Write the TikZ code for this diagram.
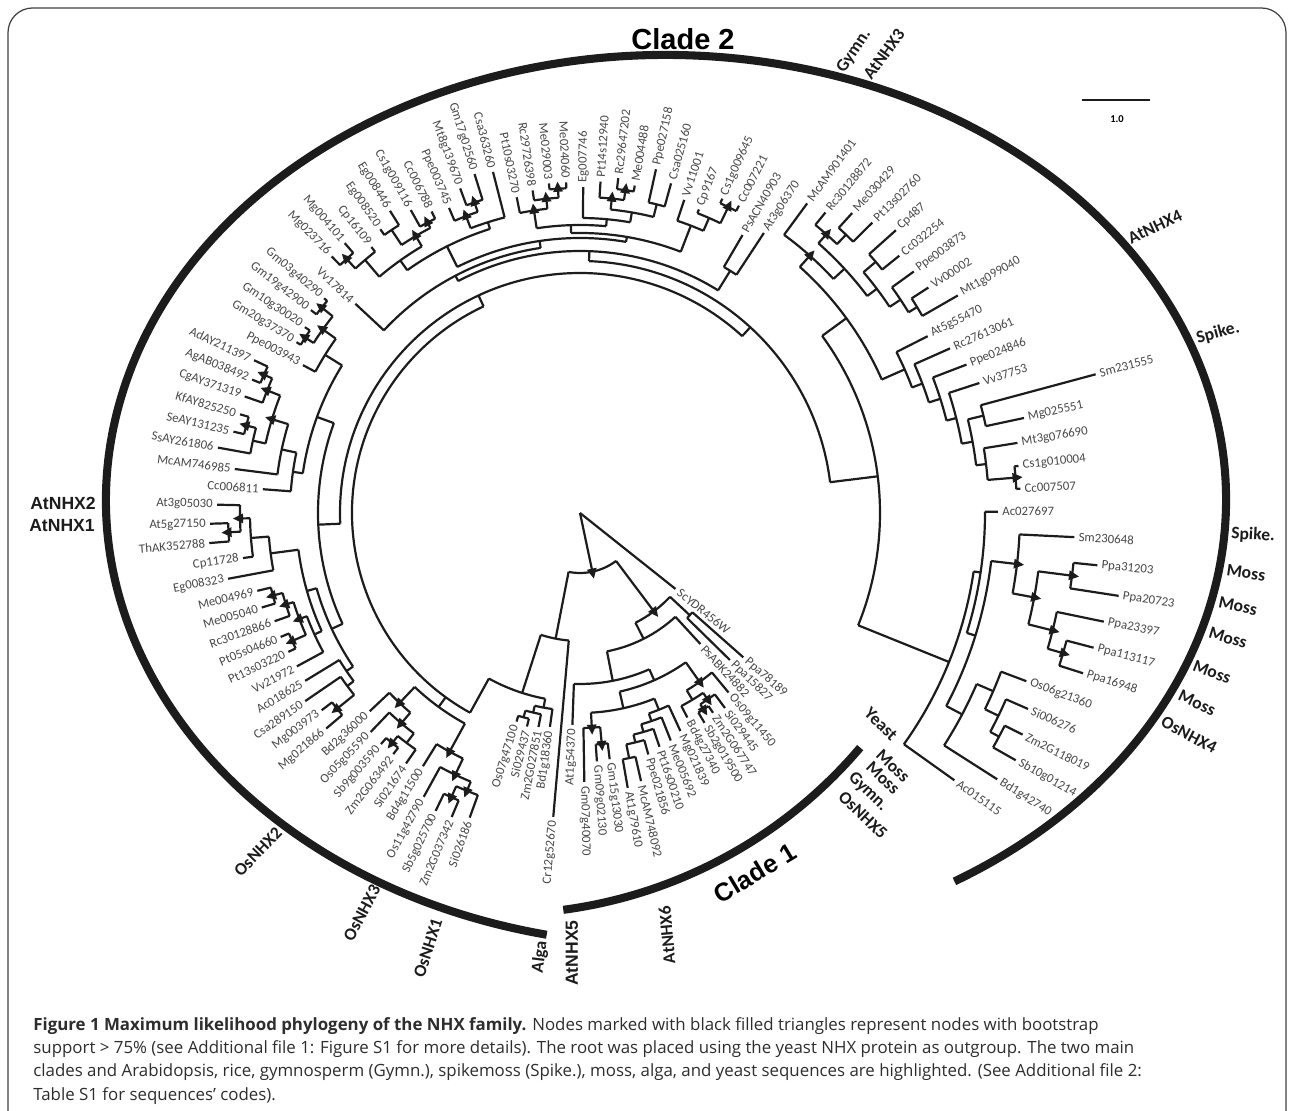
\documentclass[tikz,border=0pt]{standalone}
\usepackage{fontspec}
\setmainfont{Carlito}
\newfontfamily\arialfont{Liberation Sans}
\newfontfamily\capfont{Open Sans}
\definecolor{treeblack}{RGB}{28,28,28}
\definecolor{tipgray}{RGB}{72,72,72}
\definecolor{captext}{RGB}{45,45,45}
\tikzset{
  branch/.style={draw=treeblack, line width=1.25pt},
  tiplabel/.style={font=\fontsize{7.3}{8}\selectfont, text=tipgray, inner sep=0pt},
  grouplabel/.style={font=\bfseries\fontsize{10}{12}\selectfont, text=treeblack, inner sep=0pt},
  arialgroup/.style={font=\arialfont\bfseries\fontsize{10}{12}\selectfont, text=treeblack, inner sep=0pt},
  cladebar/.style={draw=treeblack, line width=4.6pt},
}
\begin{document}
\begin{tikzpicture}[x=0.02cm, y=0.02cm]
  \useasboundingbox (0,0) rectangle (1292,1111);

  % frame
  \draw[line width=0.7pt, draw=black!75, rounded corners=14]
    (8,-40) -- (8,1103) -- (1286,1103) -- (1286,-40);

  % === TREE (root at centre) ===
  \begin{scope}[shift={(580,598)}]
    % internal nodes: position / first child / last child / parent radius / radius / support
    \foreach \tn/\tlo/\thi/\rp/\rn/\bs in {
      14.3/5.9/22/0/60/1, 5.9/2.5/9.3/60/123/1, 2.5/2/3/123/150/0,
      9.3/4/14.6/123/141/0, 14.6/10.27/19/141/171/0, 10.27/6.44/14.1/171/183/0,
      6.44/5/7.875/183/207/1, 7.875/6.75/9/207/218/0, 6.75/6/7.5/218/226/1,
      7.5/7/8/226/232/1, 14.1/10.97/17.25/183/200/0, 10.97/10/11.94/200/212/0,
      11.94/11/12.875/212/220/0, 12.875/12/13.75/220/228/0, 13.75/13/14.5/228/236/0,
      14.5/14/15/236/250/0, 17.25/16.5/18/200/215/1, 16.5/16/17/215/232/1,
      22/20/24.3/60/128/0, 24.3/21.875/28/128/189/0, 21.875/21/22.75/189/198/0,
      22.75/22/23.5/198/205/0, 23.5/23/24/205/212/0, 28/28/70.4/189/228/0,
      30.44/27.94/32.94/228/240/0, 27.94/26.875/29/240/272/1, 26.875/25.75/28/272/290/1,
      25.75/25/26.5/290/300/1, 26.5/26/27/300/312/1, 32.94/31.875/34/240/262/1,
      31.875/30.75/33/262/276/1, 30.75/30/31.5/276/288/0, 31.5/31/32/288/297/1,
      70.4/47.7/93.1/228/240/0, 47.7/40.15/55.3/240/262/0, 40.15/37.1/43.2/262/274/0,
      37.1/36.25/38/274/282/0, 36.25/35.5/37/282/290/0, 35.5/35/36/290/312/1,
      43.2/40.3/46.06/274/284/0, 40.3/39/41.6/284/292/0, 41.6/40.5/42.75/292/300/1,
      40.5/40/41/300/315/1, 42.75/42/43.5/300/308/1, 43.5/43/44/308/318/1,
      46.06/45/47.1/284/312/0, 47.1/46/48.25/312/330/0, 48.25/47.5/49/330/340/1,
      47.5/47/48/340/352/1, 55.3/51.3/59.25/262/280/0, 51.3/50/52.6/280/290/0,
      52.6/51/54.25/290/305/0, 54.25/52.75/55.75/305/322/1, 52.75/52/53.5/322/335/0,
      53.5/53/54/335/345/1, 55.75/55/56.5/322/336/1, 56.5/56/57/336/345/1,
      59.25/58/60.5/280/300/0, 60.5/59.5/61.5/300/316/1, 59.5/59/60/316/326/1,
      61.5/61/62/316/330/1, 93.1/79.5/106.7/240/252/0, 79.5/69.5/89.5/252/262/0,
      69.5/63/75.97/262/268/0, 75.97/69.9/82.05/268/275/0, 69.9/66.9/72.9/275/298/0,
      66.9/65.25/68.5/298/310/0, 65.25/64.5/66/310/332/0, 64.5/64/65/332/345/1,
      68.5/67.5/69.5/310/322/1, 67.5/67/68/322/340/0, 69.5/69/70/322/328/1,
      72.9/71.75/74/298/305/0, 71.75/71/72.5/305/318/1, 72.5/72/73/318/328/1,
      82.05/78.2/85.9/275/280/0, 78.2/75.9/80.56/280/288/0, 75.9/75/76.75/288/306/1,
      76.75/76/77.5/306/316/1, 77.5/77/78/316/325/1, 80.56/79/82.1/288/295/0,
      82.1/80.75/83.5/295/305/0, 80.75/80/81.5/305/316/1, 81.5/81/82/316/326/1,
      83.5/83/84/305/318/0, 85.9/85/86.75/280/308/0, 86.75/86/87.5/308/322/0,
      87.5/87/88/322/340/1, 89.5/89/90/262/285/0, 106.7/96.9/116.45/252/300/0,
      96.9/92.85/101.04/300/330/0, 92.85/91/94.7/330/345/1, 94.7/92.75/96.6/345/360/0,
      92.75/92/93.5/360/372/1, 93.5/93/94/372/385/0, 96.6/95.5/97.75/360/372/0,
      95.5/95/96/372/388/0, 97.75/97/98.5/372/385/0, 98.5/98/99/385/395/0,
      101.04/100/102.1/330/355/0, 102.1/101/103.15/355/366/0, 103.15/102/104.3/366/378/0,
      104.3/103/105.6/378/388/0, 105.6/104.5/106.75/388/399/0, 104.5/104/105/399/415/0,
      106.75/106/107.5/399/409/0, 107.5/107/108/409/437/1, 116.45/111.9/121/300/398/0,
      111.9/109/114.85/398/405/0, 114.85/111.3/118.4/405/414/0, 111.3/110/112.6/414/440/1,
      112.6/111.5/113.75/440/462/1, 111.5/111/112/462/496/1, 113.75/113/114.5/462/487/1,
      114.5/114/115/487/503/1, 118.4/116.9/120/414/432/0, 116.9/116/117.75/432/450/0,
      117.75/117/118.5/450/465/0, 118.5/118/119/465/475/0}{
      \pgfmathsetmacro\at{-35.525-2.97521*\tn}
      \pgfmathsetmacro\alo{-35.525-2.97521*\tlo}
      \pgfmathsetmacro\ahi{-35.525-2.97521*\thi}
      \draw[branch] (\at:\rp) -- (\at:\rn);
      \draw[branch] (\alo:\rn) arc[start angle=\alo, end angle=\ahi, radius=\rn];
      \ifnum\bs=1
        \fill[treeblack, rotate=\at] ({\rn+7},0) -- ({\rn-3},5) -- ({\rn-3},-5) -- cycle;
      \fi
    }

    % tips: index / parent radius / tip radius / label
    \foreach \i/\rp/\rn/\lbl in {
      1/0/122/ScYDR456W, 2/150/218/Ppa78189, 3/150/210/Ppa15827, 4/141/178/PsABK24882,
      5/207/233/Os09g11450, 6/226/243/Si029445, 7/232/240/Zm2G067747, 8/232/244/Sb2g019500,
      9/218/231/Bd4g27340, 10/212/240/Mg021839, 11/220/245/Me005692, 12/228/247/Pt16s00210,
      13/236/251/Ppe021856, 14/250/275/McAM748092, 15/250/279/At1g79610, 16/232/248/Gm15g13030,
      17/232/249/Gm09g02130, 18/215/269/Gm07g40070, 19/171/212/At1g54370, 20/128/305/Cr12g52670,
      21/198/216/Bd1g18360, 22/205/218/Zm2G027851, 23/212/220/Si029437, 24/212/218/Os07g47100,
      25/300/324/Si026186, 26/312/330/Zm2G037342, 27/312/331/Sb5g025700, 28/290/324/Os11g42790,
      29/272/298/Bd4g11500, 30/288/305/Si021674, 31/297/305/Zm2G063492, 32/297/305/Sb9g003590,
      33/276/303/Os05g05590, 34/262/289/Bd2g36000, 35/312/333/Mg021866, 36/312/325/Mg003973,
      37/290/333/Csa289150, 38/282/322/Ac018625, 39/292/322/Vv21972, 40/315/323/Pt13s03220,
      41/315/324/Pt05s04660, 42/308/324/Rc30128866, 43/318/332/Me005040, 44/318/332/Me004969,
      45/312/358/Eg008323, 46/330/340/Cp11728, 47/352/372/ThAK352788, 48/352/370/At5g27150,
      49/340/363/At3g05030, 50/290/318/Cc006811, 51/305/348/McAM746985, 52/335/368/SsAY261806,
      53/345/356/SeAY131235, 54/345/354/KfAY825250, 55/336/355/CgAY371319, 56/345/354/AgAB038492,
      57/345/360/AdAY211397, 58/300/314/Ppe003943, 59/326/331/Gm20g37370, 60/326/332/Gm10g30020,
      61/330/337/Gm19g42900, 62/330/334/Gm03g40290, 63/268/307/Vv17814, 64/345/357/Mg023716,
      65/345/358/Mg004101, 66/332/338/Cp16109, 67/340/347/Eg008520, 68/340/357/Eg008446,
      69/328/347/Cs1g009116, 70/328/336/Cc006788, 71/318/332/Ppe003745, 72/328/346/Mt8g139670,
      73/328/355/Gm17g02560, 74/305/352/Csa363260, 75/306/322/Pt10s03270, 76/316/326/Rc29726398,
      77/325/331/Me029003, 78/325/331/Me024060, 79/295/326/Eg007746, 80/316/332/Pt14s12940,
      81/326/337/Rc29647202, 82/326/332/Me004488, 83/318/352/Ppe027158, 84/318/342/Csa025160,
      85/308/330/Vv11001, 86/322/326/Cp9167, 87/340/345/Cs1g009645, 88/340/346/Cc007221,
      89/285/322/PsACN40903, 90/285/335/At3g06370, 91/345/384/McAM901401, 92/372/388/Rc30128872,
      93/385/405/Me030429, 94/385/412/Pt13s02760, 95/388/424/Cp487, 96/388/410/Cc032254,
      97/385/412/Ppe003873, 98/395/415/Vv00002, 99/395/436/Mt1g099040, 100/355/390/At5g55470,
      101/366/405/Rc27613061, 102/378/414/Ppe024846, 103/388/420/Vv37753, 104/415/534/Sm231555,
      105/415/454/Mg025551, 106/409/443/Mt3g076690, 107/437/441/Cs1g010004, 108/437/441/Cc007507,
      109/405/418/Ac027697, 110/440/495/Sm230648, 111/496/520/Ppa31203, 112/496/545/Ppa20723,
      113/487/535/Ppa23397, 114/503/531/Ppa113117, 115/503/528/Ppa16948, 116/450/477/Os06g21360,
      117/465/489/Si006276, 118/475/495/Zm2G118019, 119/475/501/Sb10g01214, 120/432/495/Bd1g42740,
      121/398/460/Ac015115}{
      \pgfmathsetmacro\at{-35.525-2.97521*\i}
      \pgfmathsetmacro\rl{\rn+4}
      \draw[branch] (\at:\rp) -- (\at:\rn);
      \pgfmathtruncatemacro\side{cos(\at)>=0 ? 1 : 0}
      \ifnum\side=1
        \node[tiplabel, anchor=west, rotate=\at] (leaf\i) at (\at:\rl) {\lbl};
      \else
        \pgfmathsetmacro\af{\at+180}
        \node[tiplabel, anchor=east, rotate=\af] (leaf\i) at (\at:\rl) {\lbl};
      \fi
    }
  \end{scope}

  % === CLADE BARS ===
  \draw[cladebar] (666,611) ++(257.7:560 and 445)
    arc[start angle=257.7, end angle=-59, x radius=560, y radius=445];
  \draw[cladebar] (501,668) ++(-82.4:471)
    arc[start angle=-82.4, end angle=-40.3, radius=471];
  \node[font=\arialfont\bfseries\fontsize{16.5}{18}\selectfont] (clade2) at (683,1072) {Clade 2};
  \node[font=\arialfont\bfseries\fontsize{14.5}{16}\selectfont, rotate=31] (clade1) at (755,238) {Clade 1};

  % group names round the tree
  \node[grouplabel, rotate=56] (gymtop) at (854,1060) {Gymn.};
  \node[grouplabel, rotate=54] (nhx3) at (884,1057) {AtNHX3};
  \node[grouplabel, rotate=25] (nhx4) at (1155,884) {AtNHX4};
  \node[grouplabel, rotate=15] (spikeA) at (1218,778) {Spike.};
  \node[grouplabel, rotate=-3] (spikeB) at (1253,576) {Spike.};
  \node[grouplabel, rotate=-8] (mossA) at (1246,538) {Moss};
  \node[grouplabel, rotate=-12] (mossB) at (1238,505) {Moss};
  \node[grouplabel, rotate=-17] (mossC) at (1228,473) {Moss};
  \node[grouplabel, rotate=-21] (mossD) at (1212,439) {Moss};
  \node[grouplabel, rotate=-25] (mossE) at (1197,408) {Moss};
  \node[grouplabel, rotate=-28] (osnhx4) at (1189,376) {OsNHX4};
  \node[grouplabel, rotate=-44] (yeast) at (881,387) {Yeast};
  \node[grouplabel, rotate=-44] (mossF) at (893,345) {Moss};
  \node[grouplabel, rotate=-44] (mossG) at (883,333) {Moss};
  \node[grouplabel, rotate=-44] (gymbot) at (868,319) {Gymn.};
  \node[grouplabel, rotate=-44] (osnhx5) at (863,296) {OsNHX5};
  \node[grouplabel, rotate=46] (osnhx2) at (258,259) {OsNHX2};
  \node[grouplabel, rotate=62] (osnhx3) at (362,198) {OsNHX3};
  \node[grouplabel, rotate=72] (osnhx1) at (428,163) {OsNHX1};
  \node[grouplabel, rotate=83] (alga) at (540,154) {Alga};
  \node[arialgroup, rotate=90] (nhx5) at (572,158) {AtNHX5};
  \node[grouplabel, rotate=95] (nhx6) at (667,176) {AtNHX6};
  \node[arialgroup] (nhx2) at (63,608) {AtNHX2};
  \node[arialgroup] (nhx1) at (62,585) {AtNHX1};

  % scale bar
  \draw[line width=1.5pt, treeblack] (1082,1011) -- (1150,1011);
  \node[font=\bfseries\fontsize{6}{7}\selectfont] (scale) at (1117,992) {1.0};

  % caption
  \node[anchor=north west, align=left, inner sep=0pt, text=captext,
        font=\capfont\fontsize{9.6}{13.3}\selectfont] (caption) at (33,94)
    {\textbf{Figure 1 Maximum likelihood phylogeny of the NHX family.} Nodes marked with black filled triangles represent nodes with bootstrap\\
     support > 75\% (see Additional file 1: Figure S1 for more details). The root was placed using the yeast NHX protein as outgroup. The two main\\
     clades and Arabidopsis, rice, gymnosperm (Gymn.), spikemoss (Spike.), moss, alga, and yeast sequences are highlighted. (See Additional file 2:\\
     Table S1 for sequences’ codes).};
\end{tikzpicture}
\end{document}
